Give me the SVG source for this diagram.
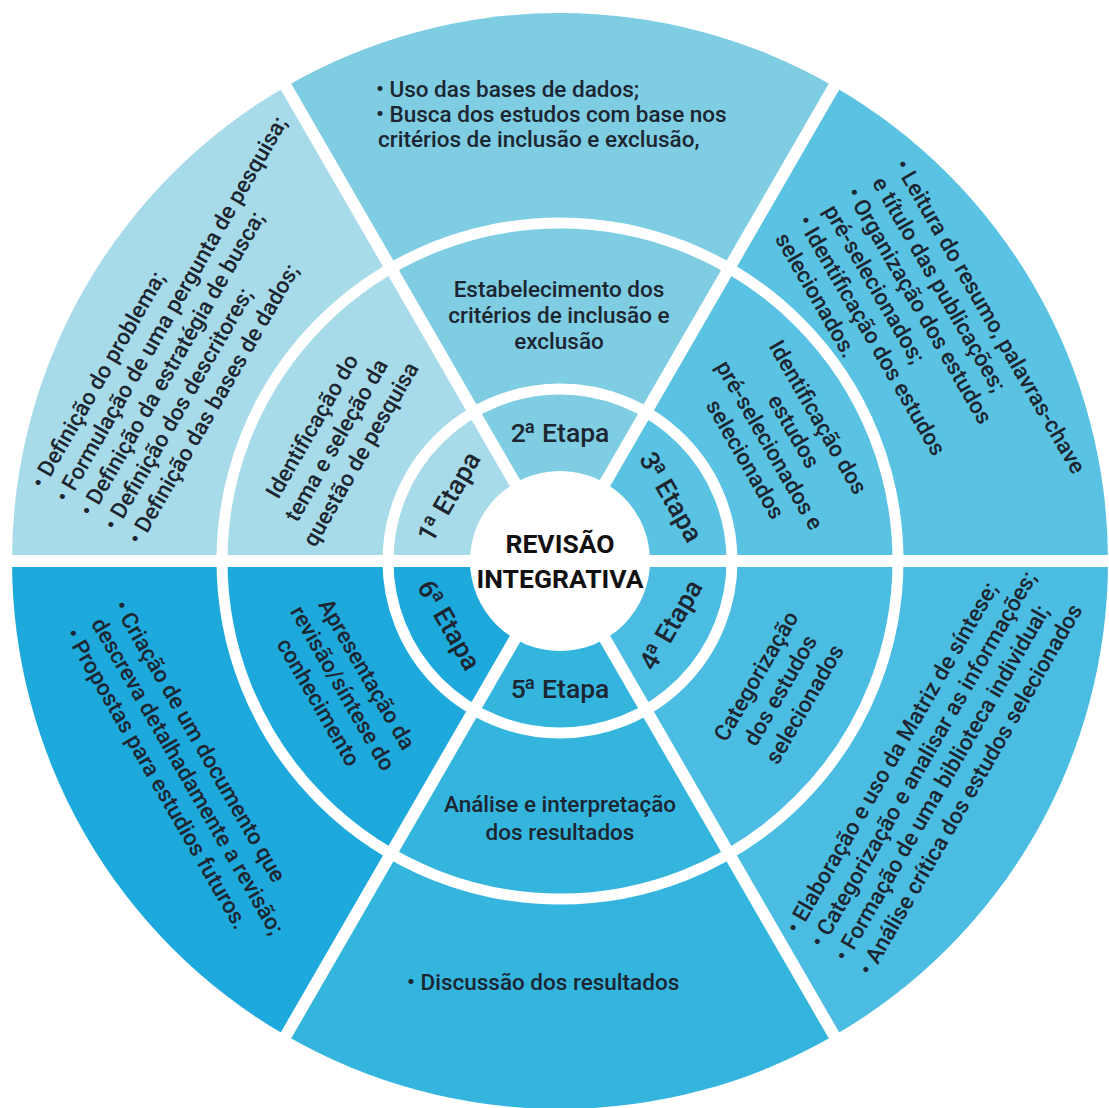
<svg xmlns="http://www.w3.org/2000/svg" width="1109" height="1108" viewBox="0 0 1109 1108">
<style>
text{font-family:Roboto,"Liberation Sans",Arial,sans-serif;fill:#1c2530;font-weight:500;font-size:22.5px}
.et{font-size:26.5px;font-weight:500}
.mid{text-anchor:middle}
.ctr{font-weight:700;font-size:26.5px;fill:#111;text-anchor:middle}
.gap{fill:none;stroke:#fff;stroke-width:11}
.div{stroke:#fff;stroke-width:12}
.s1{fill:#a7dbe9}.s2{fill:#7ecde3}.s3{fill:#5ac3e3}.s4{fill:#4bbde2}.s5{fill:#33b5de}.s6{fill:#1ea9dd}
</style>
<rect width="1109" height="1108" fill="#fff"/>
<g id="sector1">
<path class="s1" d="M286,86.4 A548,548 0 0 0 12,561 L560,561 Z"/>
</g>
<g id="sector2">
<path class="s2" d="M834,86.4 A548,548 0 0 0 286,86.4 L560,561 Z"/>
</g>
<g id="sector3">
<path class="s3" d="M1108,561 A548,548 0 0 0 834,86.4 L560,561 Z"/>
</g>
<g id="sector4">
<path class="s4" d="M834,1035.6 A548,548 0 0 0 1108,561 L560,561 Z"/>
</g>
<g id="sector5">
<path class="s5" d="M286,1035.6 A548,548 0 0 0 834,1035.6 L560,561 Z"/>
</g>
<g id="sector6">
<path class="s6" d="M12,561 A548,548 0 0 0 286,1035.6 L560,561 Z"/>
</g>
<g id="connectors">
<circle class="gap" cx="560" cy="561" r="338"/>
<circle class="gap" cx="560" cy="561" r="172"/>
<line class="div" x1="0" y1="561" x2="1109" y2="561"/>
<line class="div" x1="240" y1="1115" x2="880" y2="7"/>
<line class="div" x1="240" y1="7" x2="880" y2="1115"/>
<circle cx="560" cy="561" r="90" fill="#fff"/>
</g>
<g id="center">
<text class="ctr" x="560" y="553">REVISÃO</text>
<text class="ctr" x="560" y="588">INTEGRATIVA</text>
</g>
<g id="etapa1"><text class="et mid" transform="translate(449,497) rotate(-60)" y="9">1<tspan dx="-2">ª</tspan> Etapa</text></g>
<g id="etapa2"><text class="et mid" x="560" y="442">2<tspan dx="-2">ª</tspan> Etapa</text></g>
<g id="etapa3"><text class="et mid" transform="translate(671,497) rotate(60)" y="9">3<tspan dx="-2">ª</tspan> Etapa</text></g>
<g id="etapa4"><text class="et mid" transform="translate(671,625) rotate(-60)" y="9">4<tspan dx="-2">ª</tspan> Etapa</text></g>
<g id="etapa5"><text class="et mid" x="560" y="698">5<tspan dx="-2">ª</tspan> Etapa</text></g>
<g id="etapa6"><text class="et mid" transform="translate(449,625) rotate(60)" y="9">6<tspan dx="-2">ª</tspan> Etapa</text></g>
<g id="middle1" transform="translate(336,440) rotate(-60)">
<text class="mid" y="-20">Identificação do</text>
<text class="mid" y="8">tema e seleção da</text>
<text class="mid" y="36">questão de pesquisa</text>
</g>
<g id="middle2">
<text class="mid" x="559" y="297">Estabelecimento dos</text>
<text class="mid" x="559" y="323">critérios de inclusão e</text>
<text class="mid" x="559" y="349">exclusão</text>
</g>
<g id="middle3" transform="translate(782,438) rotate(60)">
<text class="mid" y="-34">Identificação dos</text>
<text class="mid" y="-6">estudos</text>
<text class="mid" y="22">pré-selecionados e</text>
<text class="mid" y="50">selecionados</text>
</g>
<g id="middle4" transform="translate(780,690) rotate(-60)">
<text class="mid" y="-20">Categorização</text>
<text class="mid" y="8">dos estudos</text>
<text class="mid" y="36">selecionados</text>
</g>
<g id="middle5">
<text class="mid" x="560" y="812">Análise e interpretação</text>
<text class="mid" x="560" y="840">dos resultados</text>
</g>
<g id="middle6" transform="translate(343,688) rotate(60)">
<text class="mid" y="-20">Apresentação da</text>
<text class="mid" y="8">revisão/síntese do</text>
<text class="mid" y="36">conhecimento</text>
</g>
<g id="outer1" transform="translate(38,487) rotate(-60)">
<text y="6">• Definição do problema;</text>
<text y="34">• Formulação de uma pergunta de pesquisa;</text>
<text y="62">• Definição da estratégia de busca;</text>
<text y="90">• Definição dos descritores;</text>
<text y="118">• Definição das bases de dados;</text>
</g>
<g id="outer2">
<text x="376" y="97">• Uso das bases de dados;</text>
<text x="376" y="122">• Busca dos estudos com base nos</text>
<text x="378" y="147">critérios de inclusão e exclusão,</text>
</g>
<g id="outer3" transform="translate(899,162) rotate(60)">
<text y="6">• Leitura do resumo, palavras-chave</text>
<text x="4" y="34">e título das publicações;</text>
<text y="62">• Organização dos estudos</text>
<text x="4" y="90">pré-selecionados;</text>
<text y="118">• Identificação dos estudos</text>
<text x="4" y="146">selecionados.</text>
</g>
<g id="outer4" transform="translate(793,932) rotate(-60)">
<text y="6">• Elaboração e uso da Matriz de síntese;</text>
<text y="34">• Categorização e analisar as informações;</text>
<text y="62">• Formação de uma biblioteca individual;</text>
<text y="90">• Análise crítica dos estudos selecionados</text>
</g>
<g id="outer5">
<text x="407" y="990">• Discussão dos resultados</text>
</g>
<g id="outer6" transform="translate(118,603) rotate(60)">
<text y="6">• Criação de um documento que</text>
<text x="4" y="34">descreva detalhadamente a revisão;</text>
<text y="62">• Propostas para estudios futuros.</text>
</g>
</svg>
